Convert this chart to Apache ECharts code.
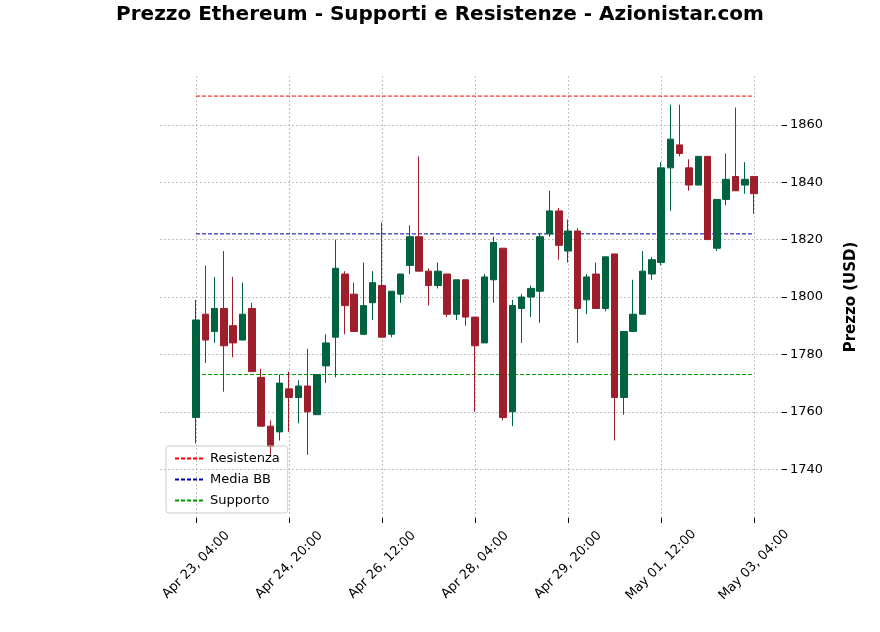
<!DOCTYPE html>
<html><head><meta charset="utf-8">
<script src="https://cdn.jsdelivr.net/npm/echarts@6/dist/echarts.min.js"></script>
<style>html,body{margin:0;padding:0;background:#fff}#c{width:880px;height:632px}</style>
</head><body><div id="c"></div>
<script>
// O, C, L, H per 4h candle starting Apr 23 04:00
const opens  = [1758,1794,1788,1796,1790,1785,1796,1772,1755,1753,1768,1765,1769,1759,1776,1786,1808,1801,1787,1798,1804,1787,1801,1811,1821,1809,1804,1808,1794,1806,1793,1784,1806,1817,1760,1796,1800,1802,1822,1830,1816,1823,1799,1808,1796,1815,1765,1788,1794,1808,1812,1845,1853,1845,1839,1849,1817,1834,1842,1839,1842];
const closes = [1792,1785,1796,1783,1784,1794,1774,1755,1748,1770,1765,1769,1760,1773,1784,1810,1797,1788,1797,1805,1786,1802,1808,1821,1809,1804,1809,1794,1806,1793,1783,1807,1819,1758,1797,1800,1803,1821,1830,1818,1823,1796,1807,1796,1814,1765,1788,1794,1809,1813,1845,1855,1850,1839,1849,1820,1834,1841,1837,1841,1836];
const lows   = [1749,1777,1784,1767,1779,1785,1774,1755,1745,1750,1753,1756,1745,1759,1770,1772,1787,1788,1787,1792,1786,1786,1798,1808,1809,1797,1803,1793,1792,1790,1760,1784,1798,1757,1755,1784,1793,1791,1821,1813,1812,1784,1794,1796,1795,1750,1759,1788,1794,1806,1811,1830,1849,1837,1839,1820,1816,1832,1837,1836,1829];
const highs  = [1799,1811,1807,1816,1807,1805,1798,1775,1757,1773,1774,1771,1782,1773,1787,1820,1809,1805,1812,1809,1826,1802,1808,1825,1849,1810,1812,1808,1806,1806,1793,1808,1821,1817,1799,1801,1804,1822,1837,1831,1827,1824,1808,1812,1814,1815,1788,1806,1816,1814,1847,1867,1867,1848,1849,1849,1834,1850,1866,1847,1842];
const tickIdx = [0,10,20,30,40,50,60];
const tickLabels = ['Apr 23, 04:00','Apr 24, 20:00','Apr 26, 12:00','Apr 28, 04:00','Apr 29, 20:00','May 01, 12:00','May 03, 04:00'];
const yTicks = [1740,1760,1780,1800,1820,1840,1860];
const resistenza = 1870, mediaBB = 1822, supporto = 1773;

const candles = opens.map((o,i)=>[i,o,closes[i],lows[i],highs[i]]);
const last = opens.length-1;
const hline = (name,v,color)=>({name,type:'line',data:[[0,v],[last,v]],symbol:'none',
  lineStyle:{color,type:[4,2],width:1},itemStyle:{color},z:1});
const grid = {color:'#b0b0b0',type:[2,2],width:0.8};
const chart = echarts.init(document.getElementById('c'));
chart.setOption({
  animation:false,
  title:{text:'Prezzo Ethereum - Supporti e Resistenze - Azionistar.com',left:'center',top:0,
    textStyle:{fontFamily:'DejaVu Sans',fontSize:20,fontWeight:'bold',color:'#000'}},
  grid:{left:160,right:98,top:76,bottom:114},
  xAxis:{type:'value',min:-3.87,max:63,
    axisLine:{show:false,onZero:false},
    axisTick:{show:true,customValues:tickIdx,length:5,lineStyle:{color:'#000'}},
    axisLabel:{customValues:tickIdx,rotate:45,align:'center',verticalAlign:'middle',margin:47,
      formatter:v=>tickLabels[tickIdx.indexOf(Math.round(v))]||'',
      fontFamily:'DejaVu Sans',fontSize:13,color:'#000'},
    splitLine:{show:true,lineStyle:grid}},
  yAxis:{type:'value',position:'right',min:1723,max:1877,
    name:'Prezzo (USD)',nameLocation:'middle',nameGap:62,nameRotate:90,
    nameTextStyle:{fontFamily:'DejaVu Sans',fontSize:15,fontWeight:'bold',color:'#000'},
    axisLine:{show:false,onZero:false},
    axisTick:{show:true,customValues:yTicks,length:5,lineStyle:{color:'#000'}},
    axisLabel:{customValues:yTicks,formatter:v=>String(v),fontFamily:'DejaVu Sans',fontSize:13,color:'#000',margin:8},
    splitLine:{show:true,lineStyle:grid}},
  legend:{left:166,top:446,orient:'vertical',itemWidth:30,itemHeight:2,itemGap:8,
    padding:[6,8],borderColor:'#ccc',borderWidth:1,borderRadius:3,
    textStyle:{fontFamily:'DejaVu Sans',fontSize:13,color:'#000'},
    data:['Resistenza','Media BB','Supporto']},
  series:[
    {type:'candlestick',data:candles,barWidth:7,z:3,
      itemStyle:{color:'#006340',color0:'#9e1e2b',borderColor:'#006340',borderColor0:'#9e1e2b',borderWidth:1}},
    hline('Resistenza',resistenza,'#ff0000'),
    hline('Media BB',mediaBB,'#0000aa'),
    hline('Supporto',supporto,'#009900')
  ]
});
</script></body></html>
